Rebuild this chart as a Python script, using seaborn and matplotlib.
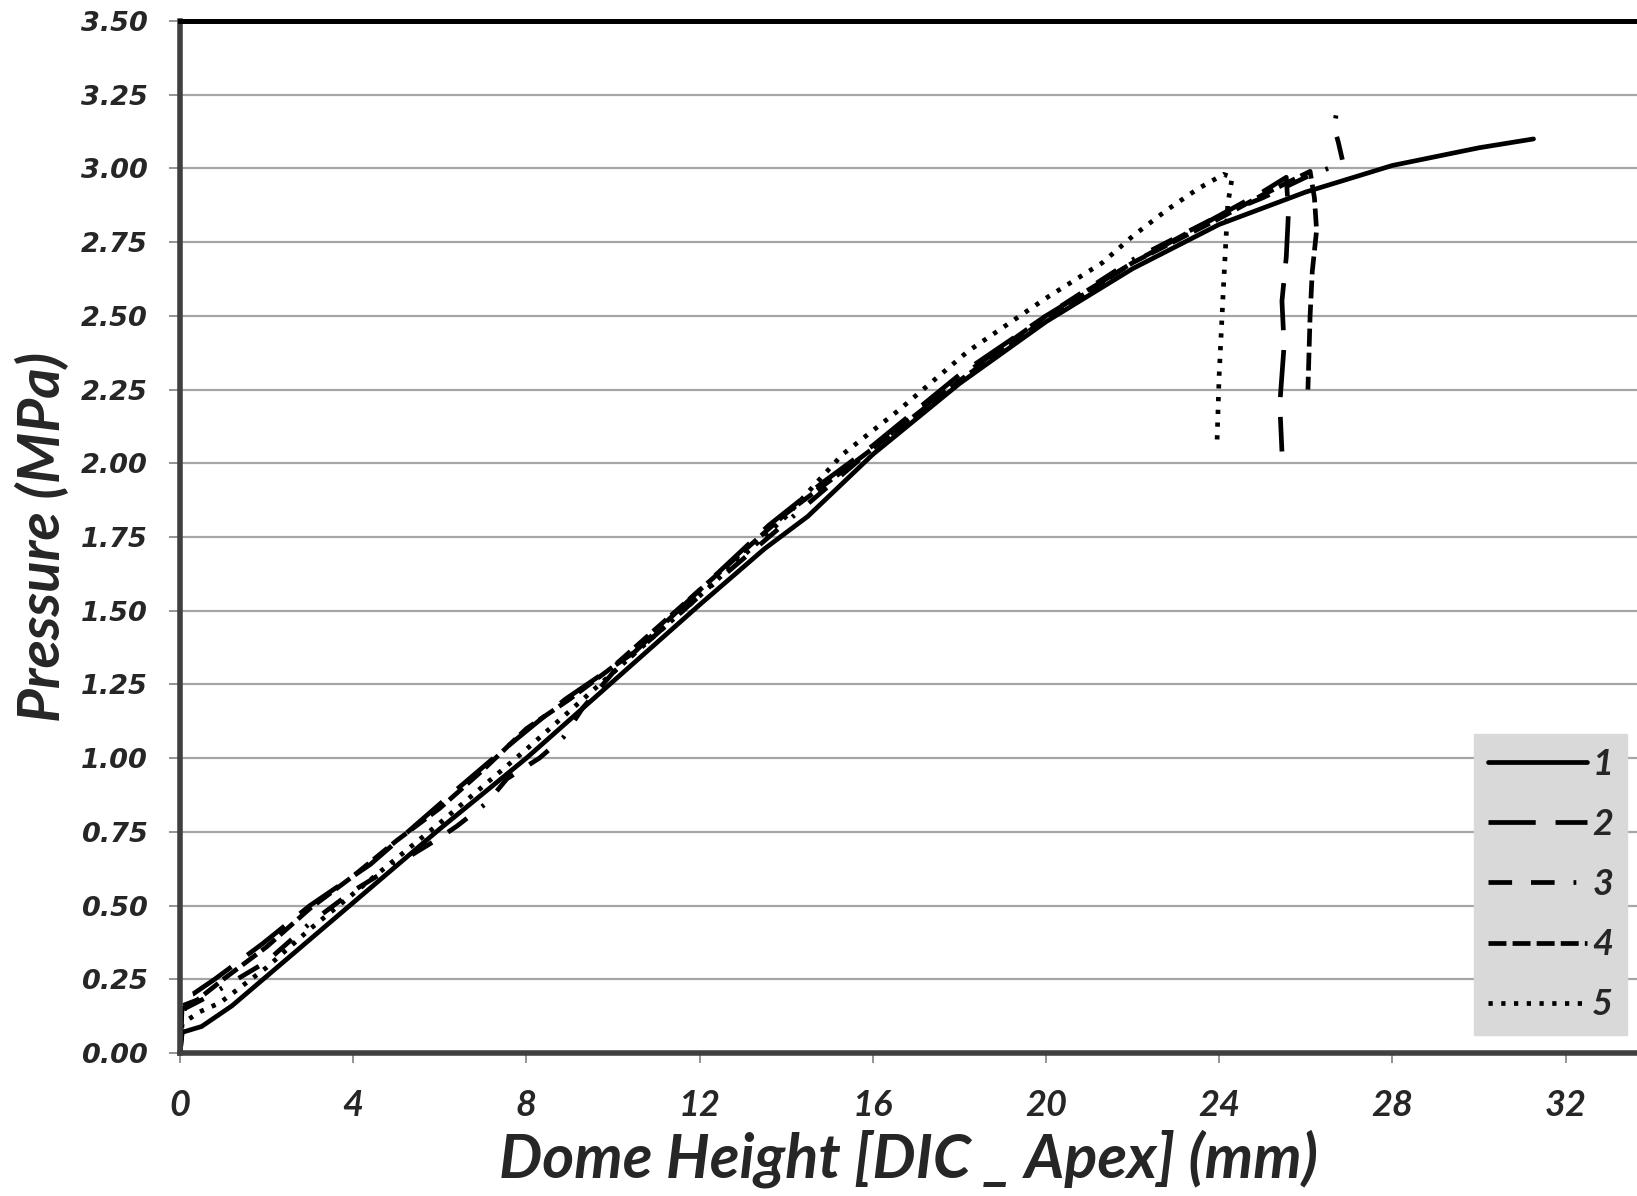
import numpy as np
import pandas as pd
import matplotlib.pyplot as plt
import seaborn as sns
from matplotlib.lines import Line2D

# curve data (dome height mm, pressure MPa)
x1 = [0, 0.05, 0.5, 1.2, 2.0, 4.0, 6.0, 8.0, 10.0, 12.0, 13.5, 14.5, 15.0, 16.0, 18.0,
      20.0, 22.0, 24.0, 26.0, 28.0, 30.0, 31.26]
y1 = [0, 0.07, 0.09, 0.16, 0.26, 0.51, 0.76, 1.00, 1.26, 1.52, 1.71, 1.82, 1.89, 2.03, 2.27,
      2.48, 2.66, 2.81, 2.92, 3.01, 3.07, 3.10]

x2 = [0, 0.05, 0.3, 0.8, 1.9, 3.0, 4.4, 6.2, 7.4, 8.9, 9.5, 10.5, 12.0, 13.6, 14.8, 16.0,
      18.0, 20.0, 22.0, 24.0, 25.0, 25.55, 25.6, 25.55, 25.45, 25.5, 25.4, 25.45]
y2 = [0, 0.19, 0.20, 0.25, 0.37, 0.50, 0.64, 0.87, 1.02, 1.20, 1.26, 1.36, 1.57, 1.79, 1.93, 2.06,
      2.30, 2.50, 2.68, 2.84, 2.92, 2.97, 2.85, 2.70, 2.55, 2.40, 2.20, 2.04]

x3 = [0, 0.1, 0.5, 1.2, 2.0, 3.0, 4.0, 5.0, 6.0, 6.4, 7.1, 7.55, 8.3, 8.85, 9.3, 10.0, 12.0,
      14.0, 16.0, 18.0, 20.0, 22.0, 24.0, 25.0, 26.0, 26.86, 26.75, 26.65, 26.7]
y3 = [0, 0.15, 0.18, 0.24, 0.31, 0.44, 0.55, 0.64, 0.73, 0.77, 0.85, 0.93, 1.00, 1.07, 1.17, 1.29, 1.55,
      1.80, 2.05, 2.29, 2.50, 2.69, 2.84, 2.90, 2.97, 3.02, 3.09, 3.14, 3.18]

x4 = [0, 0.05, 0.4, 1.0, 2.0, 3.0, 4.0, 5.0, 6.0, 7.0, 8.0, 9.0, 10.0, 12.0, 14.0, 16.0, 18.0,
      20.0, 22.0, 24.0, 25.0, 26.1, 26.2, 26.25, 26.15, 26.1, 26.05]
y4 = [0, 0.16, 0.18, 0.25, 0.36, 0.49, 0.60, 0.72, 0.83, 0.96, 1.10, 1.20, 1.31, 1.57, 1.83, 2.05, 2.28,
      2.49, 2.68, 2.83, 2.91, 2.99, 2.90, 2.79, 2.65, 2.50, 2.25]

x5 = [0, 0.05, 0.46, 0.92, 2.0, 3.0, 4.0, 6.0, 8.0, 10.0, 12.0, 14.0, 14.8, 15.3, 16.6, 18.2,
      20.0, 21.3, 22.0, 22.8, 23.5, 24.1, 24.3, 24.2, 24.1, 24.0, 23.95]
y5 = [0, 0.10, 0.14, 0.17, 0.29, 0.42, 0.54, 0.78, 1.03, 1.29, 1.55, 1.82, 1.95, 2.03, 2.18, 2.38,
      2.56, 2.68, 2.77, 2.86, 2.93, 2.98, 2.97, 2.88, 2.60, 2.30, 2.07]

labels = ["1", "2", "3", "4", "5"]
x_ticks = [0, 4, 8, 12, 16, 20, 24, 28, 32]
y_ticks = [0, 0.25, 0.5, 0.75, 1.0, 1.25, 1.5, 1.75, 2.0, 2.25, 2.5, 2.75, 3.0, 3.25, 3.5]

LW = 3.4
dash_styles = {
    "1": "",
    "2": (10.0, 4.2),
    "3": (5.0, 4.0, 5.0, 4.0, 0.6, 4.0),
    "4": (3.8, 1.3),
    "5": (0.9, 1.8),
}

df = pd.concat(
    [pd.DataFrame({"x": xs, "y": ys, "curve": lab})
     for xs, ys, lab in zip([x1, x2, x3, x4, x5], [y1, y2, y3, y4, y5], labels)],
    ignore_index=True,
)

sns.set_style("white")
plt.rcParams["font.family"] = ["DejaVu Sans"]

fig = plt.figure(figsize=(16.37, 11.96), dpi=100)
ax = fig.add_axes([180 / 1637, (1196 - 1053) / 1196, (1637 - 180) / 1637, (1053 - 21) / 1196])

sns.lineplot(
    data=df, x="x", y="y", style="curve", dashes=dash_styles,
    color="black", lw=LW, sort=False, estimator=None, legend=False, ax=ax,
)

ax.set_xlim(0, 33.65)
ax.set_ylim(0, 3.5)
ax.set_xticks(x_ticks)
ax.set_yticks(y_ticks)
ax.set_yticklabels([f"{v:.2f}" for v in y_ticks], fontsize=19.5, fontweight="bold", fontstyle="italic")
ax.set_xticklabels([str(v) for v in x_ticks], fontsize=26, fontweight="bold", fontstyle="italic",
                   family="Lato")

ax.grid(axis="y", color="#a6a6a6", lw=1.6)
ax.grid(axis="x", visible=False)
ax.set_axisbelow(True)

ax.tick_params(axis="y", direction="out", length=8, width=1.2, color="#808080", pad=15, left=True)
ax.tick_params(axis="x", direction="out", length=7, width=1.2, color="#808080", pad=19, bottom=True)

ax.spines["top"].set_linewidth(3.6)
ax.spines["top"].set_color("black")
for side in ["left", "bottom"]:
    ax.spines[side].set_linewidth(4)
    ax.spines[side].set_color("#404040")
ax.spines["right"].set_visible(False)

ax.set_xlabel("Dome Height [DIC _ Apex] (mm)", fontsize=44, fontweight="bold", fontstyle="italic",
              family="Lato", labelpad=5)
ax.set_ylabel("Pressure (MPa)", fontsize=42, fontweight="bold", fontstyle="italic",
              family="Lato", labelpad=8)

handles = [Line2D([], [], color="black", lw=LW)]
handles += [Line2D([], [], color="black", lw=LW, dashes=dash_styles[lab]) for lab in labels[1:]]
leg = ax.legend(
    handles, labels, loc="lower right", bbox_to_anchor=(1627 / 1637, (1196 - 1035) / 1196),
    bbox_transform=fig.transFigure, borderaxespad=0, frameon=True, fancybox=False,
    handlelength=2.75, handletextpad=0.15, labelspacing=0.75, borderpad=0.38,
    prop={"family": "Lato", "weight": "bold", "style": "italic", "size": 26},
)
leg.get_frame().set_facecolor("#d9d9d9")
leg.get_frame().set_edgecolor("#d9d9d9")
leg.get_frame().set_alpha(1)

fig.savefig("out.png", dpi=100)
